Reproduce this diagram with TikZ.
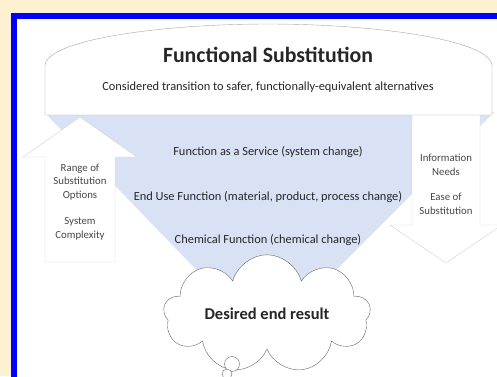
\documentclass[tikz,border=0pt]{standalone}
\usepackage{fontspec}
\setmainfont{Carlito}
\usepackage{tikz}
\usetikzlibrary{shapes.symbols}
\definecolor{cream}{HTML}{FEF1D1}
\definecolor{framebl}{HTML}{0000FF}
\definecolor{funnel}{HTML}{D9E2F4}
\definecolor{ink}{HTML}{262626}

\begin{document}
\begin{tikzpicture}[x=1pt,y=-1pt,
  midtxt/.style={font=\fontsize{12.4}{14}\selectfont,text=ink},
  sidetxt/.style={font=\fontsize{10.8}{13.5}\selectfont,text=ink!85,align=center,inner sep=0pt},
  blockarrow/.style={draw=gray!35,fill=white}]
  \clip (0,0) rectangle (497,376);
  \fill[cream] (0,0) rectangle (497,376);
  \draw[framebl,line width=6,fill=white] (14,16) rectangle (530,410);
  % funnel behind everything
  \fill[funnel] (44,112) -- (494,112) -- (265,341) -- cycle;
  % up and down block arrows
  \draw[blockarrow] (45,262) -- (45,157) -- (23,157) -- (80,117) -- (137,157) -- (115,157) -- (115,262) -- cycle;
  \draw[blockarrow] (412,112) -- (412,225) -- (390,225) -- (446,263) -- (502,225) -- (480,225) -- (480,112);
  % top banner
  \draw[gray!70,fill=white] (45,115) -- (45,66) .. controls (45,40) and (160,24) .. (268,24)
    .. controls (376,24) and (492,40) .. (492,66) -- (492,115) -- cycle;
  \node[font=\bfseries\fontsize{21.8}{24}\selectfont,text=ink] (title) at (268,55) {Functional Substitution};
  \node[font=\fontsize{12.4}{14}\selectfont,text=ink] (subtitle) at (268,87) {Considered transition to safer, functionally-equivalent alternatives};
  % levels
  \node[midtxt] (service) at (268,152) {Function as a Service (system change)};
  \node[midtxt] (enduse) at (268,197) {End Use Function (material, product, process change)};
  \node[midtxt] (chemical) at (268,240) {Chemical Function (chemical change)};
  % arrow labels
  \node[sidetxt] (range) at (80,182) {Range of\\Substitution\\Options};
  \node[sidetxt] (complex) at (80,229) {System\\Complexity};
  \node[sidetxt] (info) at (446,165) {Information\\Needs};
  \node[sidetxt] (ease) at (446,204) {Ease of\\Substitution};
  % thought cloud
  \node[cloud,cloud puffs=9,aspect=2.3,draw=gray!80!black,fill=white,minimum width=207,minimum height=92,inner sep=0pt,
    font=\bfseries\fontsize{16.5}{18}\selectfont,text=ink] (result) at (267,314) {Desired end result};
  \node[circle,draw=gray!80!black,fill=white,minimum size=15,inner sep=0pt] (puff1) at (232,364) {};
  \node[circle,draw=gray!80!black,fill=white,minimum size=10,inner sep=0pt] (puff2) at (227,374) {};
\end{tikzpicture}
\end{document}
